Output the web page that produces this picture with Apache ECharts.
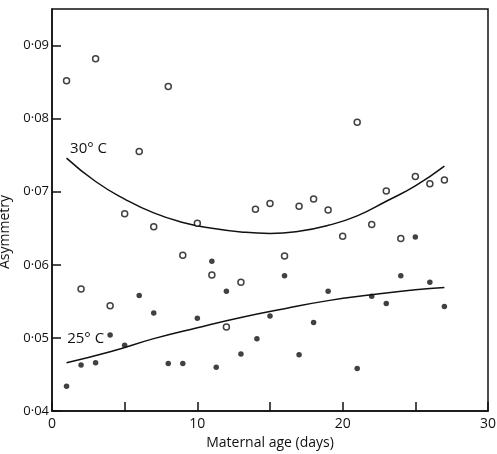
<!DOCTYPE html>
<html>
<head>
<meta charset="utf-8">
<script src="https://cdn.jsdelivr.net/npm/echarts@6/dist/echarts.min.js"></script>
<style>
  html, body { margin: 0; padding: 0; background: #fff; }
  #chart { width: 497px; height: 454px; }
</style>
</head>
<body>
<div id="chart"></div>
<script>
// 30 C, open circles
var warmAge = [1, 3, 8, 6, 5, 7, 10, 21, 14, 15, 17, 18, 19, 23, 25, 26, 27, 22, 20, 24, 16, 13, 9, 11, 2, 4, 12];
var warmAsym = [0.0852, 0.0882, 0.0844, 0.0755, 0.0670, 0.0652, 0.0657, 0.0795, 0.0676, 0.0684, 0.0680, 0.0690, 0.0675, 0.0701, 0.0721, 0.0711, 0.0716, 0.0655, 0.0639, 0.0636, 0.0612, 0.0576, 0.0613, 0.0586, 0.0567, 0.0544, 0.0515];

// 25 C, filled dots
var coolAge = [1, 2, 3, 4, 5, 6, 7, 8, 9, 10, 11, 11.3, 12, 13, 14.1, 15, 16, 17, 18, 19, 21, 22, 23, 24, 25, 26, 27];
var coolAsym = [0.0434, 0.0463, 0.0466, 0.0504, 0.0490, 0.0558, 0.0534, 0.0465, 0.0465, 0.0527, 0.0605, 0.0460, 0.0564, 0.0478, 0.0499, 0.0530, 0.0585, 0.0477, 0.0521, 0.0564, 0.0458, 0.0557, 0.0547, 0.0585, 0.0638, 0.0576, 0.0543];

// fitted curves
var warmFitX = [1, 3, 5, 7, 9, 11, 13, 15, 17, 19, 21, 23, 25, 27];
var warmFitY = [0.0746, 0.0714, 0.0690, 0.0671, 0.0658, 0.0650, 0.0645, 0.0643, 0.0646, 0.0654, 0.0667, 0.0687, 0.0708, 0.0735];
var coolFitX = [1, 4, 7, 10, 13, 16, 19, 22, 25, 27];
var coolFitY = [0.0466, 0.0481, 0.0499, 0.0514, 0.0528, 0.0540, 0.0551, 0.0559, 0.0566, 0.0569];

function pairs(xs, ys) {
    return xs.map(function (x, i) { return [x, ys[i]]; });
}

var font = 'Open Sans';
var myChart = echarts.init(document.getElementById('chart'));
var option = {
    backgroundColor: '#fff',
    animation: false,
    grid: {
        left: 52, right: 9, top: 9, bottom: 43,
        outerBoundsMode: 'none',
        containLabel: false,
        show: true, borderColor: '#111', borderWidth: 1.5
    },
    xAxis: {
        type: 'value',
        min: 0, max: 30, interval: 5,
        name: 'Maternal age (days)',
        nameLocation: 'middle',
        nameGap: 25,
        nameTextStyle: { fontFamily: font, fontSize: 14, color: '#111' },
        axisLine: { lineStyle: { color: '#111', width: 1.5 } },
        axisTick: { inside: true, length: 9, lineStyle: { color: '#111', width: 1.5 } },
        splitLine: { show: false },
        axisLabel: {
            fontFamily: font, fontSize: 14, color: '#111', margin: 6,
            formatter: function (v) { return v % 10 === 0 ? String(v) : ''; }
        }
    },
    yAxis: {
        type: 'value',
        min: 0.04, max: 0.095, interval: 0.01,
        name: 'Asymmetry',
        nameLocation: 'middle',
        nameGap: 39,
        nameTextStyle: { fontFamily: font, fontSize: 14, color: '#111', padding: [0, 44, 0, 0] },
        axisLine: { lineStyle: { color: '#111', width: 1.5 } },
        axisTick: { inside: true, length: 9, lineStyle: { color: '#111', width: 1.5 } },
        splitLine: { show: false },
        axisLabel: {
            fontFamily: font, fontSize: 13, color: '#111', margin: 3, showMaxLabel: false,
            formatter: function (v) {
                var r = Math.round(v * 100);
                if (Math.abs(v * 100 - r) > 1e-6) return '';
                return v.toFixed(2).replace('.', '·');
            }
        }
    },
    series: [
        {
            type: 'line',
            data: pairs(warmFitX, warmFitY),
            smooth: true,
            symbol: 'none',
            lineStyle: { color: '#111', width: 1.5 },
            markPoint: {
                symbol: 'circle', symbolSize: 0,
                data: [{ coord: [0.9, 0.0759] }],
                label: {
                    show: true, position: 'right', formatter: '30° C',
                    fontFamily: font, fontSize: 15, color: '#111'
                }
            },
            z: 2
        },
        {
            type: 'line',
            data: pairs(coolFitX, coolFitY),
            smooth: true,
            symbol: 'none',
            lineStyle: { color: '#111', width: 1.5 },
            markPoint: {
                symbol: 'circle', symbolSize: 0,
                data: [{ coord: [0.7, 0.0499] }],
                label: {
                    show: true, position: 'right', formatter: '25° C',
                    fontFamily: font, fontSize: 15, color: '#111'
                }
            },
            z: 2
        },
        {
            type: 'scatter',
            data: pairs(warmAge, warmAsym),
            symbol: 'circle',
            symbolSize: 6,
            itemStyle: { color: '#fff', borderColor: '#111', borderWidth: 1.5 },
            z: 3
        },
        {
            type: 'scatter',
            data: pairs(coolAge, coolAsym),
            symbol: 'circle',
            symbolSize: 5.5,
            itemStyle: { color: '#111' },
            z: 3
        }
    ]
};
myChart.setOption(option);
</script>
</body>
</html>
